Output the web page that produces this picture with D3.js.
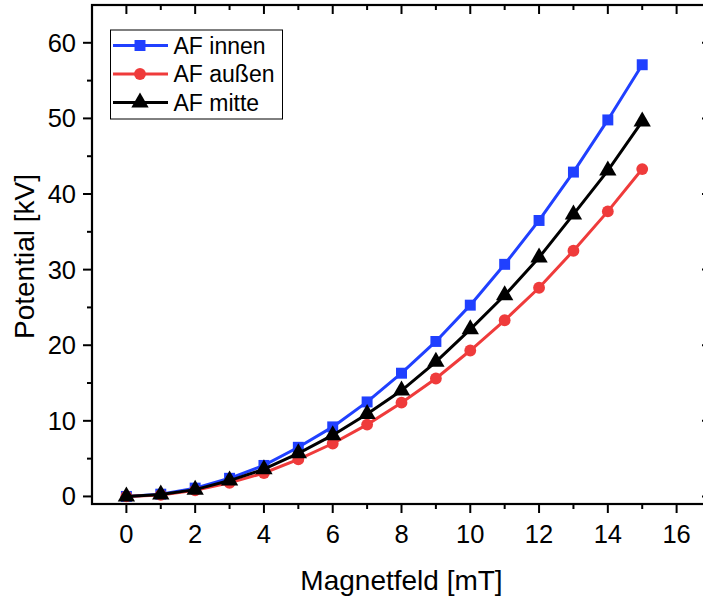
<!DOCTYPE html>
<html><head><meta charset="utf-8">
<script src="https://cdn.jsdelivr.net/npm/d3@7"></script>
<style>body{margin:0;background:#fff}svg{display:block}text{font-family:"Liberation Sans",Arial,sans-serif;fill:#000}</style>
</head><body>
<svg id="c" width="703" height="601"></svg>
<script>
const xValues = [0,1,2,3,4,5,6,7,8,9,10,11,12,13,14,15];
const innen = [0,0.3,1.1,2.4,4.1,6.5,9.2,12.5,16.3,20.5,25.3,30.7,36.5,42.9,49.8,57.1];
const aussen = [0,0.2,0.8,1.8,3.1,4.9,7.0,9.5,12.4,15.6,19.3,23.3,27.6,32.5,37.7,43.3];
const mitte = [0,0.25,0.9,2.1,3.6,5.7,8.1,10.9,14.0,17.8,22.1,26.6,31.6,37.3,43.1,49.6];
const xTicks = [0,2,4,6,8,10,12,14,16];
const yTicks = [0,10,20,30,40,50,60];
const seriesNames = ["AF innen","AF außen","AF mitte"];
const seriesColors = ["#2040ff","#ef3b3b","#000000"];

const svg = d3.select("#c");
const L=92,R=711,T=5,B=504;
const x = d3.scaleLinear().domain([-1,17]).range([L,R]);
const y = d3.scaleLinear().domain([-1,65]).range([B,T]);

const xMinor = d3.range(1,17,2);
const yMinor = d3.range(5,65,10);

svg.append("rect").attr("x",L).attr("y",T).attr("width",R-L).attr("height",B-T)
  .attr("fill","none").attr("stroke","#000").attr("stroke-width",2.2);

const g = svg.append("g");
const tk = (x1,y1,x2,y2)=>g.append("line").attr("x1",x1).attr("y1",y1).attr("x2",x2).attr("y2",y2).attr("stroke","#000").attr("stroke-width",2);
xTicks.forEach(v=>{tk(x(v),B,x(v),B+9);tk(x(v),T,x(v),T+9);});
xMinor.forEach(v=>{tk(x(v),B,x(v),B+5);tk(x(v),T,x(v),T+5);});
yTicks.forEach(v=>{tk(L,y(v),L-9,y(v));tk(R,y(v),R-9,y(v));});
yMinor.forEach(v=>{tk(L,y(v),L-5,y(v));tk(R,y(v),R-5,y(v));});

xTicks.forEach(v=>g.append("text").attr("x",x(v)).attr("y",B+39).attr("text-anchor","middle").attr("font-size",25.5).text(v));
yTicks.forEach(v=>g.append("text").attr("x",L-16).attr("y",y(v)+9).attr("text-anchor","end").attr("font-size",25.5).text(v));

svg.append("text").attr("x",401.5).attr("y",589.5).attr("text-anchor","middle").attr("font-size",28).text("Magnetfeld [mT]");
svg.append("text").attr("transform",`translate(33.5,256.5) rotate(-90)`).attr("text-anchor","middle").attr("font-size",28).text("Potential [kV]");

const data = [innen, aussen, mitte];
const symbols = [d3.symbolSquare, d3.symbolCircle, d3.symbolTriangle];
const sizes = [120, 110, 130];
const line = d3.line().x((d,i)=>x(xValues[i])).y(d=>y(d));

data.forEach((s,k)=>{
  const sg = svg.append("g");
  sg.append("path").datum(s).attr("d",line).attr("fill","none").attr("stroke",seriesColors[k]).attr("stroke-width",3);
  sg.selectAll("path.m").data(s).enter().append("path").attr("class","m")
    .attr("transform",(d,i)=>`translate(${x(xValues[i])},${y(d)})`)
    .attr("d",d3.symbol().type(symbols[k]).size(sizes[k])).attr("fill",seriesColors[k]);
});

const lg = svg.append("g");
lg.append("rect").attr("x",110.5).attr("y",30).attr("width",172).attr("height",89).attr("fill","#fff").attr("stroke","#000").attr("stroke-width",1);
seriesNames.forEach((n,k)=>{
  const yy = 45.5 + k*28.5;
  lg.append("line").attr("x1",113).attr("x2",168).attr("y1",yy).attr("y2",yy).attr("stroke",seriesColors[k]).attr("stroke-width",3);
  lg.append("path").attr("transform",`translate(140,${yy})`).attr("d",d3.symbol().type(symbols[k]).size(sizes[k])).attr("fill",seriesColors[k]);
  lg.append("text").attr("x",173.5).attr("y",yy+8).attr("font-size",23).text(n);
});
</script>
</body></html>
